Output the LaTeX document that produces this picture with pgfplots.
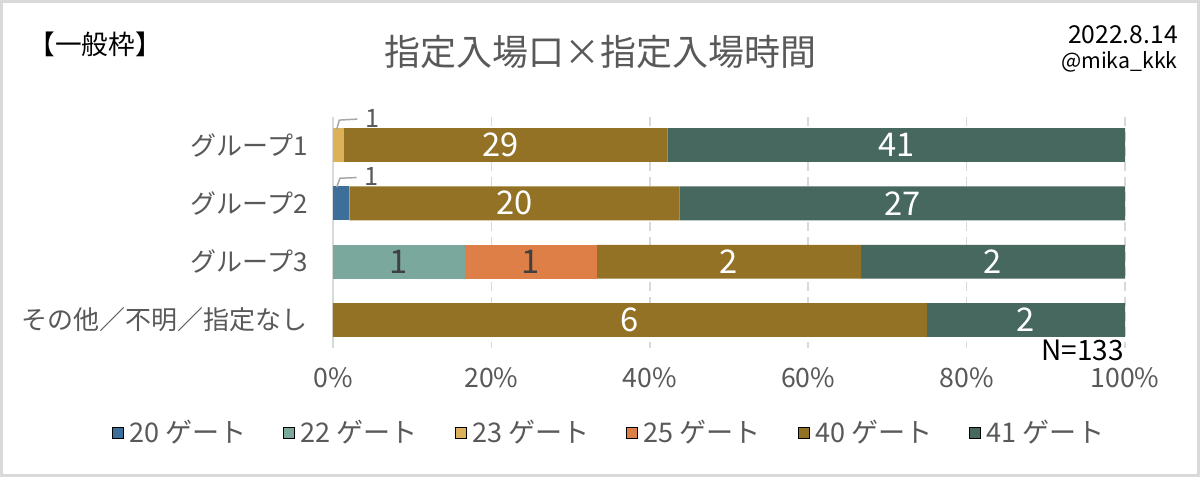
\documentclass[border=0pt]{standalone}
\usepackage{fontspec}
\setmainfont{Noto Sans CJK JP}
\usepackage{pgfplots}
\pgfplotsset{compat=1.18}
\definecolor{c20}{HTML}{3E6E9A}
\definecolor{c22}{HTML}{7BA89D}
\definecolor{c23}{HTML}{DDB05A}
\definecolor{c25}{HTML}{DD7F47}
\definecolor{c40}{HTML}{937225}
\definecolor{c41}{HTML}{46685E}
\definecolor{txt}{HTML}{595959}
\definecolor{grd}{HTML}{D9D9D9}
\definecolor{lead}{HTML}{A6A6A6}
\newcommand{\fs}[1]{\fontsize{#1}{#1}\selectfont}
\begin{document}
\begin{tikzpicture}
\useasboundingbox (0,0) rectangle (900pt,-357.75pt);
\fill[white] (0,0) rectangle (900pt,-357.75pt);
\draw[grd, line width=2.25pt] (1.125pt,-1.125pt) rectangle (898.875pt,-356.625pt);
\begin{axis}[
  at={(249.75pt,-87.75pt)}, anchor=north west,
  scale only axis, width=594pt, height=173.25pt,
  xbar stacked, bar width=0.58,
  xmin=0, xmax=100, ymin=-0.48, ymax=3.48, y dir=reverse,
  axis line style={draw=none},
  tick style={draw=none},
  ytick={0,1,2,3},
  yticklabels={グループ1,グループ2,グループ3,その他／不明／指定なし},
  yticklabel style={font=\fs{19.5pt}, text=txt, inner sep=0pt, anchor=east, xshift=-18.75pt},
  xtick={0,20,40,60,80,100},
  xticklabels={0\%,20\%,40\%,60\%,80\%,100\%},
  xticklabel style={font=\fs{20pt}, text=txt, inner sep=0pt, anchor=center, yshift=-22.5pt},
  xmajorgrids,
  major grid style={grd, line width=1.2pt, dash pattern=on 6.75pt off 4.5pt},
  extra x ticks={0}, extra x tick labels={},
  extra x tick style={grid=major, major grid style={grd, line width=1.2pt, solid}},
]
\addplot[fill=c20, draw=none] coordinates {(0,0) (2.0833,1) (0,2) (0,3)};
\addplot[fill=c22, draw=none] coordinates {(0,0) (0,1) (16.6667,2) (0,3)};
\addplot[fill=c23, draw=none] coordinates {(1.4085,0) (0,1) (0,2) (0,3)};
\addplot[fill=c25, draw=none] coordinates {(0,0) (0,1) (16.6667,2) (0,3)};
\addplot[fill=c40, draw=none] coordinates {(40.8451,0) (41.6667,1) (33.3333,2) (75,3)};
\addplot[fill=c41, draw=none] coordinates {(57.7465,0) (56.25,1) (33.3333,2) (25,3)};
\end{axis}
\begin{axis}[
  at={(249.75pt,-87.75pt)}, anchor=north west,
  scale only axis, width=594pt, height=173.25pt,
  xmin=0, xmax=100, ymin=-0.48, ymax=3.48, y dir=reverse,
  hide axis, clip=false,
  legend columns=6,
  legend image code/.code={\fill[#1] (0pt,-4.125pt) rectangle (8.25pt,4.125pt);},
  legend style={at={(-0.2794,-0.3658)}, anchor=west, draw=none, fill=none,
    inner sep=0pt, outer sep=0pt,
    nodes={inner sep=0pt, text=txt, font=\fs{20.3pt}},
    /tikz/every odd column/.append style={column sep=4.5pt},
    /tikz/every even column/.append style={column sep=27.5pt}},
]
\addlegendimage{fill=c20}\addlegendentry{20 ゲート}
\addlegendimage{fill=c22}\addlegendentry{22 ゲート}
\addlegendimage{fill=c23}\addlegendentry{23 ゲート}
\addlegendimage{fill=c25}\addlegendentry{25 ゲート}
\addlegendimage{fill=c40}\addlegendentry{40 ゲート}
\addlegendimage{fill=c41}\addlegendentry{41 ゲート}
% leader lines
\addplot[forget plot, lead, line width=1.1pt] coordinates {(0.47,-0.268) (0.795,-0.427) (3.07,-0.444)};
\addplot[forget plot, lead, line width=1.1pt] coordinates {(0.47,0.721) (0.88,0.569) (2.99,0.559)};
% labels
\addplot[forget plot, only marks, mark=none, nodes near coords, point meta=explicit symbolic,
  every node near coord/.append style={anchor=center, text=white, font=\fs{24.5pt}, inner sep=0pt}]
  coordinates {(21.13,0)[29] (71.13,0)[41] (22.92,1)[20] (71.88,1)[27] (50,2)[2] (83.33,2)[2] (37.5,3)[6] (87.5,3)[2]};
\addplot[forget plot, only marks, mark=none, nodes near coords, point meta=explicit symbolic,
  every node near coord/.append style={anchor=center, text=black!75, font=\fs{24.5pt}, inner sep=0pt}]
  coordinates {(8.333,2)[1] (25,2)[1]};
\addplot[forget plot, only marks, mark=none, nodes near coords, point meta=explicit symbolic,
  every node near coord/.append style={anchor=center, text=txt, font=\fs{19pt}, inner sep=0pt}]
  coordinates {(5.05,-0.453)[1] (4.92,0.547)[1]};
\end{axis}
\node[anchor=center, text=txt, font=\fs{27pt}, inner sep=0pt] at (450pt,-39pt) {指定入場口×指定入場時間};
\node[anchor=center, text=black, font=\fs{20pt}, inner sep=0pt] at (71.25pt,-33pt) {【一般枠】};
\node[anchor=east, text=black, font=\fs{18.5pt}, inner sep=0pt] at (883.5pt,-26.25pt) {2022.8.14};
\node[anchor=east, text=black, font=\fs{16pt}, inner sep=0pt] at (883.5pt,-46.5pt) {@mika\_kkk};
\node[anchor=east, text=black, font=\fs{21pt}, inner sep=0pt] at (843pt,-262.5pt) {N=133};
\end{tikzpicture}
\end{document}
